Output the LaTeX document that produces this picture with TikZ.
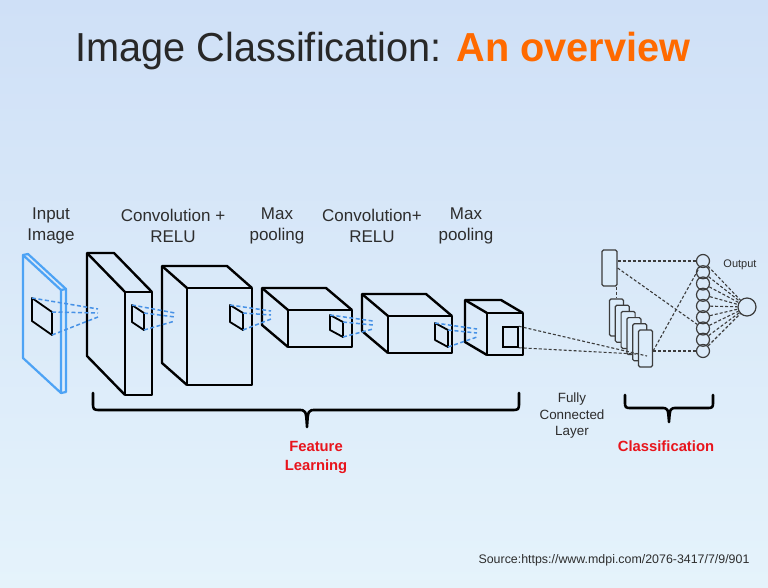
\documentclass[tikz,border=0pt]{standalone}
\usepackage{fontspec}
\setmainfont{Liberation Sans}
\usetikzlibrary{shapes.geometric, arrows, positioning}
\definecolor{bgtop}{RGB}{207,224,247}
\definecolor{bgbot}{RGB}{229,243,251}
\definecolor{bgmid}{RGB}{220,236,250}
\definecolor{titlegray}{RGB}{40,40,40}
\definecolor{titleorange}{RGB}{255,106,0}
\definecolor{labred}{RGB}{232,20,28}
\definecolor{imgblue}{RGB}{77,163,245}
\definecolor{dashblue}{RGB}{70,145,230}
\definecolor{netgray}{RGB}{60,60,60}
\definecolor{txtgray}{RGB}{45,45,45}
\tikzstyle{lab} = [align=center, text=txtgray, font=\fontsize{17}{21}\selectfont]
\tikzstyle{redlab} = [align=center, text=labred, font=\bfseries\fontsize{14.8}{19}\selectfont]
\tikzstyle{boxline} = [line width=2.4pt, line join=round, black]
\tikzstyle{filt} = [line width=1.8pt, line join=round, black]
\tikzstyle{bluedash} = [dash pattern=on 4pt off 2.5pt, line width=1.5pt, dashblue]
\tikzstyle{netdash} = [draw, dash pattern=on 3pt off 2pt, line width=1.1pt, netgray]
\tikzstyle{neuron} = [circle, draw=netgray, line width=1.2pt, minimum size=13pt, inner sep=0pt]
\tikzstyle{fcrect} = [rectangle, rounded corners=1.5pt, draw=netgray, line width=1.2pt, fill=bgmid, minimum width=14pt, minimum height=37pt, inner sep=0pt]
\tikzstyle{brace} = [line width=2.6pt, line cap=round, line join=round, black]
% front x, top y, width, height, depth dx, depth dy
\newcommand{\convbox}[6]{%
  \draw[boxline] (#1,#2) rectangle ++(#3,#4);
  \draw[boxline] (#1,{#2+#4}) -- ++(#5,#6) -- ++(0,{-(#4)}) -- ++(#3,0) -- ++({-(#5)},{-(#6)});
  \draw[boxline] (#1,#2) -- ++(#5,#6);}
% x, y, width, rise, height, target x, target y
\newcommand{\filterpatch}[7]{%
  \draw[filt] (#1,#2) -- ++(#3,#4) -- ++(0,#5) -- ++({-(#3)},{-(#4)}) -- cycle;
  \draw[bluedash] (#1,#2) -- (#6,{#7-4});
  \draw[bluedash] ({#1+#3},{#2+#4}) -- (#6,#7);
  \draw[bluedash] ({#1+#3},{#2+#4+#5}) -- (#6,{#7+4});}

\begin{document}
\begin{tikzpicture}[x=1pt, y=-1pt, node distance=11.25pt]
		\useasboundingbox (0,0) rectangle (768,587);
		\shade[top color=bgtop, bottom color=bgbot] (0,0) rectangle (768,587);
		\node (title) [anchor=base, text=titlegray, font=\fontsize{40.5}{48}\selectfont] at (383,61) {\scalebox{0.98}[1]{Image Classification: \textcolor{titleorange}{\bfseries An overview}}};
		\node (inlab) [lab] at (51,226) {Input\\Image};
		\node (conv1lab) [lab] at (173,226) {Convolution +\\RELU};
		\node (pool1lab) [lab] at (277,226) {Max\\pooling};
		\node (conv2lab) [lab] at (372,226) {Convolution+\\RELU};
		\node (pool2lab) [lab] at (466,226) {Max\\pooling};
		% input image
		\draw [imgblue, line width=2.2pt, line join=round] (23,255) -- (61,290) -- (61,393) -- (23,358) -- cycle;
		\draw [imgblue, line width=2.2pt, line join=round] (23,255) -- (28,254) -- (66,289) -- (66,392) -- (61,393);
		\draw [imgblue, line width=2.2pt] (61,290) -- (66,289);
		\convbox{125}{292}{27}{103}{-38}{-39}
		\convbox{187}{288}{65}{97}{-25}{-22}
		\convbox{288}{310}{64}{37}{-26}{-22}
		\convbox{388}{316}{64}{37}{-26}{-22}
		\convbox{487}{313}{36}{42}{-22}{-13}
		\filterpatch{32}{298}{20}{14}{23}{98}{313}
		\filterpatch{132}{305}{12}{8}{17}{175}{317}
		\filterpatch{230}{305}{13}{8}{17}{271}{315}
		\filterpatch{330}{315}{13}{7}{15}{373}{325}
		\filterpatch{435}{323}{13}{7}{17}{477}{333}
		\node (win) [draw, line width=1.5pt, minimum width=15pt, minimum height=20pt, inner sep=0pt] at (510.5,337) {};
		% fully connected part
		\node (fc) [fcrect, minimum width=15pt, minimum height=36pt] at (609.5,268) {};
		\node (s1) [fcrect] at (616.5,317.5) {};
		\node (s2) [fcrect] at ([shift={(5.8,6.2)}]s1) {};
		\node (s3) [fcrect] at ([shift={(5.8,6.2)}]s2) {};
		\node (s4) [fcrect] at ([shift={(5.8,6.2)}]s3) {};
		\node (s5) [fcrect] at ([shift={(5.8,6.2)}]s4) {};
		\node (s6) [fcrect] at ([shift={(5.8,6.2)}]s5) {};
		\coordinate (fcin) at (647,356);
		\coordinate (fcin2) at (636,354);
		\node (n1) [neuron] at (703,261) {};
		\node (n2) [neuron, below of=n1] {};
		\node (n3) [neuron, below of=n2] {};
		\node (n4) [neuron, below of=n3] {};
		\node (n5) [neuron, below of=n4] {};
		\node (n6) [neuron, below of=n5] {};
		\node (n7) [neuron, below of=n6] {};
		\node (n8) [neuron, below of=n7] {};
		\node (n9) [neuron, below of=n8] {};
		\node (out) [neuron, minimum size=18pt] at (747,307) {};
		\node (outlab) [text=txtgray, font=\fontsize{11}{13}\selectfont] at (740,265) {Output};
		\draw [netdash] (win.north east) -- (fcin);
		\draw [netdash] (win.south east) -- (fcin2);
		\draw [netdash] (s1.north |- fc.south) -- (s1.north);
		\draw [netdash] (fc.east |- n1) -- (n1);
		\draw [netdash] (fc.east) -- (n7);
		\draw [netdash] (s6.east |- n9) -- (n9);
		\draw [netdash] (s6.east |- n9) -- (n1);
		\draw [netdash] (n1) -- (out);
		\draw [netdash] (n2) -- (out);
		\draw [netdash] (n3) -- (out);
		\draw [netdash] (n4) -- (out);
		\draw [netdash] (n5) -- (out);
		\draw [netdash] (n6) -- (out);
		\draw [netdash] (n7) -- (out);
		\draw [netdash] (n8) -- (out);
		\draw [netdash] (n9) -- (out);
		% braces
		\draw [brace] (93,393) -- (93,402) .. controls (93,410) .. (101,410) -- (298,410) .. controls (306,410) .. (307,427) .. controls (308,410) .. (316,410) -- (511,410) .. controls (519,410) .. (519,402) -- (519,393);
		\draw [brace] (625,395) -- (625,401) .. controls (625,408) .. (632,408) -- (661,408) .. controls (668,408) .. (669,422) .. controls (670,408) .. (677,408) -- (706,408) .. controls (713,408) .. (713,401) -- (713,395);
		\node (featlab) [redlab] at (316,457) {Feature\\Learning};
		\node (fclab) [align=center, text=txtgray, font=\fontsize{13.4}{16.5}\selectfont] at (572,416) {Fully\\Connected\\Layer};
		\node (classlab) [redlab] at (666,446) {Classification};
		\node (source) [text=txtgray, font=\fontsize{12.4}{15}\selectfont] at (614,560) {Source:https://www.mdpi.com/2076-3417/7/9/901};
%		\draw [netdash] (fc) -- (s6);
\end{tikzpicture}
\end{document}
